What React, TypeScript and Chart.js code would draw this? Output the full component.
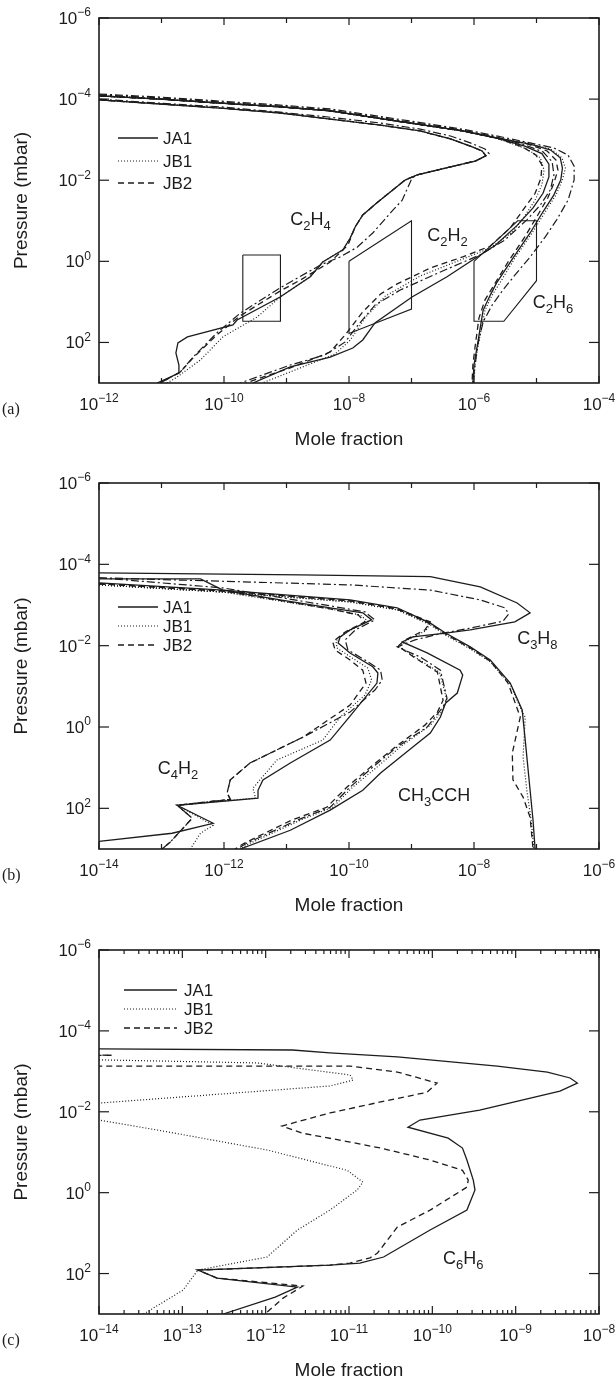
import React, { useEffect, useRef } from "react";
import { Chart, registerables } from "chart.js";

Chart.register(...registerables);

type Pt = [number, number];

// ================= Panel (a) data: mole fraction vs pressure (mbar) =================
const A_C2H4_TOP: Pt[] = [[1e-12,1.05e-4],[9.5e-12,1.32e-4],[8.7e-11,1.66e-4],[7.9e-10,2.2e-4],[5e-9,3.1e-4],[3.2e-8,4.4e-4],[1.38e-7,6.1e-4],[4.2e-7,9.6e-4],[8.7e-7,1.44e-3],[1.35e-6,1.9e-3],[1.55e-6,2.5e-3],[1.04e-6,3.4e-3],[4.2e-7,4.7e-3],[1.23e-7,7.4e-3],[7.9e-8,9.9e-3],[5.5e-8,1.55e-2],[2.8e-8,3.6e-2],[1.66e-8,7.2e-2],[1.26e-8,0.14]];
const A_C2H4_JA1: Pt[] = [...A_C2H4_TOP,[1.04e-8,0.27],[8e-9,0.52],[3.8e-9,1.04],[2.4e-9,2.4],[7.9e-10,7.6],[1.62e-10,28],[1.39e-10,37],[2.6e-11,73],[1.83e-11,103],[1.7e-11,182],[1.9e-11,360],[1.9e-11,570],[8.5e-12,1000]];
const A_C2H4_JB1: Pt[] = [...A_C2H4_TOP,[1.04e-8,0.27],[8e-9,0.52],[3.8e-9,1.04],[2.4e-9,2.4],[7.9e-10,7.6],[3.4e-10,23.5],[9.6e-11,73],[4.2e-11,270],[1.78e-11,710],[1.23e-11,1000]];
const A_C2H4_JB2: Pt[] = [...A_C2H4_TOP,[9.6e-9,0.4],[5e-9,1.04],[1.66e-9,2.9],[7.9e-10,5.4],[1.82e-10,22],[7.7e-11,65],[3.2e-11,240],[2e-11,535],[9.5e-12,1000]];
const A_C2H4_DD: Pt[] = [[1e-12,1.0e-4],[9.5e-12,1.26e-4],[8.7e-11,1.55e-4],[7.9e-10,2.1e-4],[5e-9,2.8e-4],[3.2e-8,3.9e-4],[1.38e-7,5.5e-4],[4.2e-7,8.1e-4],[8.7e-7,1.2e-3],[1.5e-6,1.7e-3],[1.74e-6,2.2e-3],[1.15e-6,3.2e-3],[4.2e-7,4.7e-3],[1.23e-7,7.4e-3],[1.02e-7,8.8e-3],[7.1e-8,3.1e-2],[4.6e-8,6.4e-2],[2.4e-8,0.2],[1.35e-8,0.45],[7.2e-9,0.78],[3.5e-9,1.23],[7.9e-10,4.5],[1.82e-10,19],[7.7e-11,58],[3.2e-11,230],[2e-11,535],[9.5e-12,1000]];

const A_BAND: Pt[] = [[1e-12,8.3e-5],[9.5e-12,1.0e-4],[8.7e-11,1.26e-4],[7.9e-10,1.55e-4],[5e-9,1.95e-4],[5.9e-8,3.5e-4],[6.6e-7,6.1e-4],[2.3e-6,9.1e-4]];
const A_C2H2_JA1: Pt[] = [...A_BAND,[6.5e-6,1.44e-3],[1.22e-5,2.2e-3],[1.58e-5,4.0e-3],[1.58e-5,8.3e-3],[1.27e-5,2.1e-2],[8.8e-6,4.8e-2],[4.9e-6,0.13],[2.2e-6,0.4],[9.5e-7,0.93],[3.7e-7,2.4],[1.02e-7,7.6],[2.6e-8,33],[1.66e-8,87],[1.15e-8,137],[5e-9,230],[1.15e-9,400],[2.9e-10,1000]];
const A_C2H2_JB2: Pt[] = [...A_BAND,[5.9e-6,1.5e-3],[9.8e-6,2.4e-3],[1.22e-5,4.2e-3],[1.18e-5,8.8e-3],[9.5e-6,2.1e-2],[6.1e-6,5.4e-2],[3.8e-6,0.15],[1.82e-6,0.42],[6.6e-7,0.78],[2.0e-7,1.46],[5.9e-8,3.6],[3.2e-8,6.4],[1.66e-8,17.7],[8.7e-9,65],[5e-9,172],[1.15e-9,425],[2.2e-10,1000]];
const A_C2H2_JB1: Pt[] = [...A_BAND,[7.0e-6,1.7e-3],[1.15e-5,2.8e-3],[1.32e-5,5.6e-3],[1.22e-5,1.3e-2],[9.5e-6,3.1e-2],[6.3e-6,8.1e-2],[4.1e-6,0.19],[1.82e-6,0.47],[6.0e-7,0.93],[1.38e-7,2.3],[3.8e-8,7.2],[1.8e-8,25],[1.05e-8,87],[6.0e-9,192],[1.66e-9,425],[4.1e-10,1000]];
const A_C2H2_DD: Pt[] = [[1e-12,7.9e-5],[9.5e-12,9.3e-5],[8.7e-11,1.18e-4],[7.9e-10,1.48e-4],[5e-9,1.86e-4],[5.9e-8,3.3e-4],[6.6e-7,5.8e-4],[2.3e-6,8.6e-4],[6.5e-6,1.35e-3],[1.27e-5,2.0e-3],[1.78e-5,3.5e-3],[1.9e-5,7.4e-3],[1.66e-5,1.74e-2],[1.15e-5,4.1e-2],[7.0e-6,9.5e-2],[3.1e-6,0.3],[1.26e-6,0.69],[2.9e-7,1.83],[6.6e-8,5.1],[2.6e-8,12],[1.4e-8,37],[8.7e-9,97],[4.1e-9,205],[1.15e-9,360],[1.82e-10,1000]];

const A_C2H6_JA1: Pt[] = [...A_BAND,[7.9e-6,1.28e-3],[1.66e-5,1.78e-3],[2.4e-5,2.8e-3],[2.6e-5,5.0e-3],[2.45e-5,9.8e-3],[1.9e-5,2.3e-2],[1.27e-5,6.0e-2],[7.9e-6,0.2],[4.2e-6,0.83],[2.3e-6,3.4],[1.82e-6,6.8],[1.4e-6,16],[1.12e-6,129],[1.0e-6,360],[9.6e-7,1000]];
const A_C2H6_JB2: Pt[] = [...A_BAND,[7.3e-6,1.28e-3],[1.48e-5,1.9e-3],[2.05e-5,3.2e-3],[2.2e-5,5.6e-3],[1.9e-5,1.17e-2],[1.52e-5,2.7e-2],[1.05e-5,7.2e-2],[6.5e-6,0.25],[3.5e-6,1.04],[2.0e-6,4.3],[1.5e-6,8.9],[1.2e-6,25],[1.04e-6,129],[9.6e-7,360],[9.3e-7,1000]];
const A_C2H6_JB1: Pt[] = [...A_BAND,[8.5e-6,1.28e-3],[1.78e-5,1.78e-3],[2.55e-5,2.8e-3],[2.9e-5,5.0e-3],[2.6e-5,9.8e-3],[2.05e-5,2.3e-2],[1.38e-5,6.0e-2],[8.5e-6,0.2],[4.5e-6,0.83],[2.6e-6,3.4],[1.95e-6,6.8],[1.5e-6,16],[1.15e-6,129],[1.04e-6,360],[1.0e-6,1000]];
const A_C2H6_DD: Pt[] = [[1e-12,7.5e-5],[9.5e-12,8.9e-5],[8.7e-11,1.12e-4],[7.9e-10,1.4e-4],[5e-9,1.75e-4],[5.9e-8,3.1e-4],[6.6e-7,5.5e-4],[2.3e-6,8.1e-4],[7.9e-6,1.2e-3],[1.9e-5,1.6e-3],[3.2e-5,2.4e-3],[4.0e-5,4.5e-3],[4.0e-5,9.8e-3],[3.2e-5,3.1e-2],[2.1e-5,9.5e-2],[1.38e-5,0.25],[7.9e-6,0.78],[4.5e-6,2.2],[2.9e-6,5.1],[1.95e-6,12],[1.4e-6,31],[1.15e-6,115],[1.04e-6,360],[9.6e-7,1000]];

const A_BOX_C2H4: Pt[] = [[2e-10,0.7],[8e-10,0.7],[8e-10,30],[2e-10,30],[2e-10,0.7]];
const A_BOX_C2H2: Pt[] = [[1e-8,1],[1e-7,0.1],[1e-7,15],[1e-8,60],[1e-8,1]];
const A_BOX_C2H6: Pt[] = [[1e-6,1],[5e-6,0.1],[1e-5,0.1],[1e-5,3],[3e-6,30],[1e-6,30],[1e-6,1]];

// ================= Panel (b) data =================
const B_CH3CCH_JA1: Pt[] = [[1e-14,1.62e-4],[1.66e-11,1.82e-4],[2.0e-9,2.0e-4],[1.26e-8,3.6e-4],[4.9e-8,8.9e-4],[7.9e-8,1.56e-3],[4.5e-8,2.6e-3],[8.7e-9,4.1e-3],[3.5e-9,4.9e-3],[1.05e-9,6.1e-3],[7.1e-10,8.1e-3],[1.78e-9,1.51e-2],[6.0e-9,4.0e-2],[6.6e-9,5.3e-2],[5.4e-9,0.146],[3.5e-9,0.26],[2.9e-9,0.57],[2.0e-9,1.41],[1.05e-9,3.1],[3.2e-10,13.6],[1.66e-10,36],[5.0e-11,111],[1.15e-11,346],[1.82e-12,1000]];
const B_CH3CCH_DD: Pt[] = [[1e-14,2.14e-4],[1.04e-10,3.2e-4],[2.0e-9,4.3e-4],[1.26e-8,7.5e-4],[3.1e-8,1.17e-3],[3.6e-8,1.65e-3],[2.9e-8,2.5e-3],[8.7e-9,3.7e-3],[3.2e-9,4.9e-3],[1.14e-9,7.2e-3],[5.9e-10,1.07e-2],[1.38e-9,1.9e-2],[2.9e-9,4.0e-2],[3.7e-9,0.195],[3.2e-9,0.32],[1.78e-9,1.0],[5.9e-10,3.1],[2.4e-10,9.7],[1.04e-10,30],[5.0e-11,94],[1.47e-11,196],[2.3e-12,724],[1.62e-12,1000]];
const B_CH3CCH_JB2: Pt[] = [[1e-14,3.0e-4],[9.6e-13,4.5e-4],[1.04e-10,7.9e-4],[5.9e-10,1.25e-3],[2.0e-9,2.6e-3],[1.64e-9,4.1e-3],[7.9e-10,7.2e-3],[6.1e-10,1.02e-2],[1.14e-9,2.0e-2],[2.6e-9,4.5e-2],[3.2e-9,0.22],[2.6e-9,0.43],[1.64e-9,0.9],[5.5e-10,3.1],[2.2e-10,9.7],[9.3e-11,30],[4.4e-11,94],[1.2e-11,196],[2.1e-12,724],[1.5e-12,1000]];
const B_CH3CCH_JB1: Pt[] = [[1e-14,3.2e-4],[9.6e-13,4.8e-4],[1.04e-10,8.4e-4],[5.9e-10,1.32e-3],[2.0e-9,2.8e-3],[1.7e-9,4.3e-3],[8.3e-10,7.4e-3],[6.4e-10,1.05e-2],[1.2e-9,2.0e-2],[2.8e-9,4.5e-2],[3.7e-9,0.22],[3.0e-9,0.43],[2.0e-9,0.9],[6.6e-10,3.1],[2.8e-10,9.7],[1.15e-10,30],[5.5e-11,94],[1.66e-11,196],[2.6e-12,724],[1.82e-12,1000]];

const B_C3H8_JA1: Pt[] = [[1e-14,2.85e-4],[9.6e-13,4.3e-4],[1.04e-10,7.5e-4],[5.9e-10,1.17e-3],[2.0e-9,2.8e-3],[3.5e-9,4.9e-3],[8.7e-9,1.07e-2],[1.82e-8,2.25e-2],[3.8e-8,8.3e-2],[5.9e-8,0.38],[6.6e-8,2.1],[7.9e-8,36],[8.8e-8,196],[9.5e-8,1000]];
const B_C3H8_JB2: Pt[] = [[1e-14,3.0e-4],[9.6e-13,4.5e-4],[1.04e-10,7.9e-4],[5.9e-10,1.25e-3],[2.0e-9,2.9e-3],[3.5e-9,5.2e-3],[8.7e-9,1.14e-2],[1.82e-8,2.4e-2],[3.5e-8,8.3e-2],[5.0e-8,0.38],[5.5e-8,0.57],[4.1e-8,4.4],[4.2e-8,20],[6.1e-8,53],[7.9e-8,166],[8.8e-8,1000]];
const B_C3H8_JB1: Pt[] = [[1e-14,3.2e-4],[9.6e-13,4.8e-4],[1.04e-10,8.4e-4],[5.9e-10,1.32e-3],[2.0e-9,3.1e-3],[3.5e-9,5.5e-3],[8.7e-9,1.2e-2],[1.82e-8,2.5e-2],[3.8e-8,8.8e-2],[5.9e-8,0.43],[6.6e-8,0.57],[6.1e-8,5.5],[7.0e-8,36],[8.2e-8,196],[9.1e-8,1000]];

const B_C4H2_JA1: Pt[] = [[1e-14,2.27e-4],[4.2e-13,2.27e-4],[9.6e-13,4.3e-4],[7.9e-12,7.5e-4],[5.0e-11,1.17e-3],[1.66e-10,1.56e-3],[2.3e-10,2.33e-3],[1.04e-10,4.1e-3],[7.2e-11,6.1e-3],[6.7e-11,8.6e-3],[1.04e-10,1.51e-2],[2.4e-10,3.3e-2],[2.9e-10,4.7e-2],[2.8e-10,8.3e-2],[1.04e-10,0.54],[5.0e-11,2.1],[1.15e-11,7.7],[4.2e-12,20],[3.5e-12,36],[3.5e-12,56],[1.78e-13,84],[6.7e-13,233],[1.48e-13,410],[1e-14,646]];
const B_C4H2_JB2: Pt[] = [[1e-14,3.0e-4],[9.6e-13,4.5e-4],[5.0e-11,1.25e-3],[1.4e-10,1.75e-3],[1.8e-10,2.6e-3],[8.7e-11,4.6e-3],[5.5e-11,8.1e-3],[6.0e-11,1.28e-2],[1.04e-10,2.25e-2],[1.66e-10,4.0e-2],[1.87e-10,8.3e-2],[1.04e-10,0.29],[1.84e-11,1.77],[2.6e-12,7.7],[1.26e-12,20],[1.12e-12,42],[1.26e-12,60],[1.78e-13,84],[3.1e-13,175],[1.37e-13,684],[1.02e-13,1000]];
const B_C4H2_JB1: Pt[] = [[1e-14,3.2e-4],[9.6e-13,4.8e-4],[5.0e-11,1.25e-3],[1.5e-10,1.75e-3],[2.0e-10,2.5e-3],[9.3e-11,4.6e-3],[6.2e-11,7.6e-3],[6.4e-11,1.14e-2],[1.12e-10,2.0e-2],[2.0e-10,3.55e-2],[2.3e-10,7.0e-2],[1.8e-10,0.164],[7.2e-11,0.57],[3.8e-11,2.1],[7.0e-12,6.5],[2.9e-12,32],[3.2e-12,56],[1.78e-13,84],[6.7e-13,261],[4.2e-13,410],[2.9e-13,1000]];
const B_C4H2_DD: Pt[] = [[1e-14,2.14e-4],[9.6e-13,3.8e-4],[5.0e-11,1.05e-3],[1.8e-10,1.48e-3],[2.6e-10,2.33e-3],[1.26e-10,4.1e-3],[8.7e-11,7.2e-3],[9.6e-11,1.28e-2],[1.8e-10,2.25e-2],[3.2e-10,4.0e-2],[3.4e-10,7.0e-2],[2.6e-10,0.123],[1.04e-10,0.43],[1.84e-11,1.77],[2.6e-12,7.7],[1.26e-12,20],[1.12e-12,42],[1.26e-12,60],[1.78e-13,84],[3.1e-13,175],[1.37e-13,684],[1.02e-13,1000]];

// ================= Panel (c) data: C6H6 =================
const C_C6H6_JA1: Pt[] = [[1e-14,2.8e-4],[2.1e-12,2.97e-4],[5.9e-12,3.5e-4],[3.8e-11,4.4e-4],[6e-10,7.4e-4],[2.4e-9,1.04e-3],[4.5e-9,1.46e-3],[5.5e-9,1.95e-3],[3.4e-9,3.1e-3],[3.7e-10,9.1e-3],[7.1e-11,1.6e-2],[5.1e-11,2.4e-2],[1.55e-10,4.5e-2],[2.3e-10,7.9e-2],[2.6e-10,0.156],[3.1e-10,0.49],[3.25e-10,0.86],[2.6e-10,2.7],[9.4e-11,8.4],[2.6e-11,39],[1.35e-11,55],[5.9e-12,62],[1.54e-13,82],[2.6e-13,129],[2.4e-12,216],[1.3e-12,381],[3.1e-13,1000]];
const C_C6H6_JB2: Pt[] = [[1e-16,3.9e-4],[1.43e-14,4.0e-4],[1e-16,4.6e-4],[1e-16,6.8e-4],[1e-14,7.4e-4],[1.03e-11,7.4e-4],[3.8e-11,1.04e-3],[1.14e-10,1.95e-3],[8.6e-11,3.3e-3],[2.4e-11,5.7e-3],[5.9e-12,1.07e-2],[1.57e-12,2.25e-2],[2.8e-12,3.4e-2],[1.03e-11,5.6e-2],[2.4e-11,7.9e-2],[9.4e-11,0.156],[2.3e-10,0.28],[2.7e-10,0.49],[2.6e-10,0.73],[9.4e-11,2.7],[3.8e-11,7.1],[2.2e-11,31],[1.79e-11,41],[1.03e-11,55],[5.9e-12,62],[1.54e-13,82],[2.6e-13,129],[2.8e-12,204],[1.62e-12,404],[9.8e-13,1000]];
const C_C6H6_JB1: Pt[] = [[1e-14,5.2e-4],[7.9e-13,6.2e-4],[1.03e-11,1.23e-3],[1.12e-11,1.64e-3],[5.9e-12,2.3e-3],[1e-14,6.1e-3],[1e-16,9.6e-3],[1e-14,1.6e-2],[5.9e-14,3.0e-2],[1.04e-12,8.8e-2],[9.5e-12,0.28],[1.47e-11,0.55],[1.25e-11,0.86],[5.9e-12,2.7],[2.4e-12,8.4],[1.04e-12,39],[1.54e-13,82],[1.02e-13,256],[4.1e-14,800],[3.4e-14,1000]];

// ================= Axes / ticks / labels =================
const A_X_TICKS = [1e-12, 1e-11, 1e-10, 1e-9, 1e-8, 1e-7, 1e-6, 1e-5, 1e-4];
const A_X_LABELS = [1e-12, 1e-10, 1e-8, 1e-6, 1e-4];
const B_X_TICKS = [1e-14, 1e-13, 1e-12, 1e-11, 1e-10, 1e-9, 1e-8, 1e-7, 1e-6];
const B_X_LABELS = [1e-14, 1e-12, 1e-10, 1e-8, 1e-6];
const C_X_TICKS = [1e-14, 1e-13, 1e-12, 1e-11, 1e-10, 1e-9, 1e-8];
const C_X_LABELS = [1e-14, 1e-13, 1e-12, 1e-11, 1e-10, 1e-9, 1e-8];
const Y_TICKS = [1e-6, 1e-4, 1e-2, 1, 1e2];
const LEGEND_NAMES = ["JA1", "JB1", "JB2"];
const X_TITLE = "Mole fraction";
const Y_TITLE = "Pressure (mbar)";

// ================= Styling =================
const INK = "#1c1c1c";
const SANS = '"Liberation Sans", Arial, Helvetica, sans-serif';
const SERIF = '"Liberation Serif", "Times New Roman", serif';
type StyleKey = "JA1" | "JB1" | "JB2" | "DD" | "BOX";
const STYLES: Record<StyleKey, { dash: number[]; width: number }> = {
  JA1: { dash: [], width: 1.3 },
  JB1: { dash: [1, 2], width: 1.2 },
  JB2: { dash: [6, 4], width: 1.3 },
  DD: { dash: [8, 3, 2, 3], width: 1.2 },
  BOX: { dash: [], width: 1.1 },
};

interface Series { label: string; data: Pt[]; style: StyleKey }
interface PanelCfg {
  top: number; height: number; areaTop: number; areaBottom: number;
  xMin: number; xMax: number; xTicks: number[]; xLabels: number[]; xMinor: boolean;
  series: Series[];
  species: { text: string; x: number; y: number }[];
  legend: { x0: number; x1: number; tx: number; rows: number[] };
  letter: string;
}

const PANELS: PanelCfg[] = [
  {
    top: 0, height: 460, areaTop: 18, areaBottom: 383,
    xMin: 1e-12, xMax: 1e-4, xTicks: A_X_TICKS, xLabels: A_X_LABELS, xMinor: false,
    series: [
      { label: "JA1", data: A_C2H4_JA1, style: "JA1" }, { label: "JB1", data: A_C2H4_JB1, style: "JB1" },
      { label: "JB2", data: A_C2H4_JB2, style: "JB2" }, { label: "other", data: A_C2H4_DD, style: "DD" },
      { label: "JA1", data: A_C2H2_JA1, style: "JA1" }, { label: "JB1", data: A_C2H2_JB1, style: "JB1" },
      { label: "JB2", data: A_C2H2_JB2, style: "JB2" }, { label: "other", data: A_C2H2_DD, style: "DD" },
      { label: "JA1", data: A_C2H6_JA1, style: "JA1" }, { label: "JB1", data: A_C2H6_JB1, style: "JB1" },
      { label: "JB2", data: A_C2H6_JB2, style: "JB2" }, { label: "other", data: A_C2H6_DD, style: "DD" },
      { label: "obs C2H4", data: A_BOX_C2H4, style: "BOX" },
      { label: "obs C2H2", data: A_BOX_C2H2, style: "BOX" },
      { label: "obs C2H6", data: A_BOX_C2H6, style: "BOX" },
    ],
    species: [
      { text: "C_2H_4", x: 1.15e-9, y: 0.126 },
      { text: "C_2H_2", x: 1.78e-7, y: 0.32 },
      { text: "C_2H_6", x: 8.7e-6, y: 14 },
    ],
    legend: { x0: 118, x1: 158, tx: 163, rows: [138, 161, 183] },
    letter: "(a)",
  },
  {
    top: 460, height: 470, areaTop: 23, areaBottom: 389,
    xMin: 1e-14, xMax: 1e-6, xTicks: B_X_TICKS, xLabels: B_X_LABELS, xMinor: false,
    series: [
      { label: "JA1", data: B_C4H2_JA1, style: "JA1" }, { label: "JB1", data: B_C4H2_JB1, style: "JB1" },
      { label: "JB2", data: B_C4H2_JB2, style: "JB2" }, { label: "other", data: B_C4H2_DD, style: "DD" },
      { label: "JA1", data: B_CH3CCH_JA1, style: "JA1" }, { label: "JB1", data: B_CH3CCH_JB1, style: "JB1" },
      { label: "JB2", data: B_CH3CCH_JB2, style: "JB2" }, { label: "other", data: B_CH3CCH_DD, style: "DD" },
      { label: "JA1", data: B_C3H8_JA1, style: "JA1" }, { label: "JB1", data: B_C3H8_JB1, style: "JB1" },
      { label: "JB2", data: B_C3H8_JB2, style: "JB2" },
    ],
    species: [
      { text: "C_3H_8", x: 4.9e-8, y: 9.1e-3 },
      { text: "C_4H_2", x: 8.7e-14, y: 14.4 },
      { text: "CH_3CCH", x: 6.1e-10, y: 67 },
    ],
    legend: { x0: 118, x1: 158, tx: 163, rows: [147, 166, 185] },
    letter: "(b)",
  },
  {
    top: 930, height: 447, areaTop: 20, areaBottom: 384,
    xMin: 1e-14, xMax: 1e-8, xTicks: C_X_TICKS, xLabels: C_X_LABELS, xMinor: true,
    series: [
      { label: "JA1", data: C_C6H6_JA1, style: "JA1" },
      { label: "JB1", data: C_C6H6_JB1, style: "JB1" },
      { label: "JB2", data: C_C6H6_JB2, style: "JB2" },
    ],
    species: [{ text: "C_6H_6", x: 1.34e-10, y: 59 }],
    legend: { x0: 124, x1: 177, tx: 184, rows: [60, 79, 98] },
    letter: "(c)",
  },
];

// ================= Rich text helpers =================
type Part = { t: string; k: 0 | 1 | 2 };
function parseRich(s: string): Part[] {
  const parts: Part[] = [];
  let i = 0;
  while (i < s.length) {
    const c = s[i];
    if (c === "_") { parts.push({ t: s[i + 1], k: 1 }); i += 2; }
    else if (c === "^" && s[i + 1] === "{") {
      const j = s.indexOf("}", i);
      parts.push({ t: s.slice(i + 2, j), k: 2 }); i = j + 1;
    } else {
      let j = i;
      while (j < s.length && s[j] !== "_" && s[j] !== "^") j++;
      parts.push({ t: s.slice(i, j), k: 0 }); i = j;
    }
  }
  return parts;
}
function drawRich(ctx: CanvasRenderingContext2D, s: string, x: number, y: number, size: number, align: "left" | "center" | "right") {
  const parts = parseRich(s);
  const small = Math.round(size * 0.7);
  let w = 0;
  for (const p of parts) { ctx.font = `${p.k ? small : size}px ${SANS}`; w += ctx.measureText(p.t).width; }
  let cx = align === "left" ? x : align === "center" ? x - w / 2 : x - w;
  ctx.textAlign = "left";
  ctx.textBaseline = "alphabetic";
  for (const p of parts) {
    ctx.font = `${p.k ? small : size}px ${SANS}`;
    const dy = p.k === 1 ? size * 0.27 : p.k === 2 ? -size * 0.45 : 0;
    ctx.fillText(p.t, cx, y + dy);
    cx += ctx.measureText(p.t).width;
  }
}
function powLabel(v: number) {
  const e = Math.round(Math.log10(v));
  return `10^{${e < 0 ? "\u2212" : ""}${Math.abs(e)}}`;
}

function makePlugin(cfg: PanelCfg) {
  return {
    id: "frameAndText",
    afterDatasetsDraw(chart: any) {
      const ctx: CanvasRenderingContext2D = chart.ctx;
      const { left, right, top, bottom } = chart.chartArea;
      const xs = chart.scales.x, ys = chart.scales.y;
      ctx.save();
      ctx.strokeStyle = INK; ctx.fillStyle = INK; ctx.setLineDash([]);
      ctx.lineWidth = 1.6;
      ctx.strokeRect(left, top, right - left, bottom - top);
      ctx.lineWidth = 1.2;
      const line = (x1: number, y1: number, x2: number, y2: number) => { ctx.beginPath(); ctx.moveTo(x1, y1); ctx.lineTo(x2, y2); ctx.stroke(); };
      for (const v of cfg.xTicks) {
        const px = xs.getPixelForValue(v);
        const major = cfg.xMinor || cfg.xLabels.includes(v);
        const len = cfg.xMinor ? 8 : major ? 7 : 5;
        line(px, bottom, px, bottom - len);
        line(px, top, px, top + len);
        if (cfg.xMinor && v < cfg.xMax) {
          for (let m = 2; m <= 9; m++) {
            const mx = xs.getPixelForValue(v * m);
            line(mx, bottom, mx, bottom - 4);
            line(mx, top, mx, top + 4);
          }
        }
      }
      for (const v of Y_TICKS) {
        const py = ys.getPixelForValue(v);
        line(left, py, left + 10, py);
        line(right, py, right - 10, py);
      }
      for (const v of cfg.xLabels) drawRich(ctx, powLabel(v), xs.getPixelForValue(v), bottom + 27, 17, "center");
      for (const v of Y_TICKS) drawRich(ctx, powLabel(v), left - 8, ys.getPixelForValue(v) + 6, 17, "right");
      ctx.font = `19px ${SANS}`; ctx.textAlign = "center"; ctx.textBaseline = "alphabetic";
      ctx.fillText(X_TITLE, (left + right) / 2, bottom + 62);
      ctx.save();
      ctx.translate(27, (top + bottom) / 2);
      ctx.rotate(-Math.PI / 2);
      ctx.fillText(Y_TITLE, 0, 0);
      ctx.restore();
      ctx.font = `16px ${SERIF}`; ctx.textAlign = "left";
      ctx.fillText(cfg.letter, 2, bottom + 31);
      for (const s of cfg.species) drawRich(ctx, s.text, xs.getPixelForValue(s.x), ys.getPixelForValue(s.y), 18, "left");
      const lg = cfg.legend;
      LEGEND_NAMES.forEach((name, i) => {
        const st = STYLES[name as StyleKey];
        const yy = lg.rows[i];
        ctx.setLineDash(st.dash); ctx.lineWidth = st.width;
        line(lg.x0, yy, lg.x1, yy);
        ctx.setLineDash([]);
        ctx.font = `17px ${SANS}`; ctx.textAlign = "left";
        ctx.fillText(name, lg.tx, yy + 6);
      });
      ctx.restore();
    },
  };
}

function Panel({ cfg }: { cfg: PanelCfg }) {
  const ref = useRef<HTMLCanvasElement | null>(null);
  useEffect(() => {
    const canvas = ref.current;
    if (!canvas) return;
    const chart = new Chart(canvas, {
      type: "line",
      data: {
        datasets: cfg.series.map((s) => ({
          label: s.label,
          data: s.data.map(([x, y]) => ({ x, y })),
          borderColor: INK,
          backgroundColor: INK,
          borderWidth: STYLES[s.style].width,
          borderDash: STYLES[s.style].dash,
          pointRadius: 0,
          fill: false,
          tension: 0,
          showLine: true,
        })),
      },
      options: {
        responsive: false,
        animation: false,
        devicePixelRatio: 1,
        events: [],
        layout: { padding: { left: 99, right: 17, top: cfg.areaTop, bottom: cfg.height - cfg.areaBottom } },
        plugins: { legend: { display: false }, tooltip: { enabled: false } },
        scales: {
          x: { type: "logarithmic", min: cfg.xMin, max: cfg.xMax, display: false },
          y: { type: "logarithmic", min: 1e-6, max: 1e3, reverse: true, display: false },
        },
      },
      plugins: [makePlugin(cfg)],
    } as any);
    return () => chart.destroy();
  }, [cfg]);
  return (
    <canvas
      ref={ref}
      width={616}
      height={cfg.height}
      style={{ position: "absolute", left: 0, top: cfg.top, width: 616, height: cfg.height }}
    />
  );
}

export default function App() {
  return (
    <div style={{ position: "absolute", left: 0, top: 0, width: 616, height: 1377, background: "#fff" }}>
      {PANELS.map((p, i) => <Panel key={i} cfg={p} />)}
    </div>
  );
}
